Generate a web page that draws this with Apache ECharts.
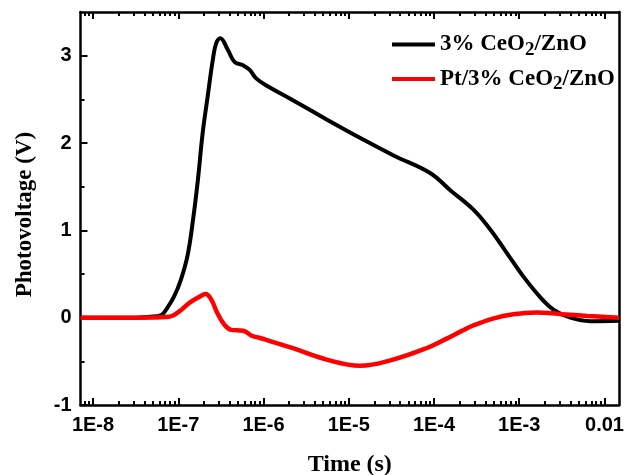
<!DOCTYPE html>
<html><head><meta charset="utf-8">
<script src="https://cdn.jsdelivr.net/npm/echarts@6/dist/echarts.min.js"></script>
<style>html,body{margin:0;padding:0;background:#fff}#c{width:627px;height:475px}</style>
</head><body><div id="c"></div>
<script>
const seriesNames = ['3% CeO2/ZnO', 'Pt/3% CeO2/ZnO'];
const seriesColors = ['#000000', '#ff0000'];

const blackTime = [7.13e-9, 1.58e-8, 3.16e-8, 4.57e-8, 6.31e-8, 7.41e-8, 8.91e-8, 1.07e-7, 1.29e-7, 1.48e-7,
  1.70e-7, 1.93e-7, 2.21e-7, 2.54e-7, 2.78e-7, 3.12e-7, 3.80e-7, 4.57e-7, 5.75e-7, 6.84e-7,
  8.20e-7, 1.12e-6, 2.21e-6, 5.50e-6, 1.35e-5, 3.31e-5, 8.91e-5, 1.55e-4, 2.88e-4, 4.57e-4,
  7.16e-4, 1.12e-3, 1.78e-3, 2.54e-3, 3.98e-3, 6.84e-3, 1.48e-2];
const blackVolt = [0.00, 0.00, 0.00, 0.01, 0.03, 0.11, 0.24, 0.43, 0.72, 1.10,
  1.58, 2.11, 2.53, 2.95, 3.14, 3.20, 3.07, 2.93, 2.89, 2.84,
  2.74, 2.65, 2.49, 2.27, 2.06, 1.86, 1.66, 1.46, 1.24, 1.01,
  0.74, 0.47, 0.23, 0.09, 0.00, -0.04, -0.035];

const redTime = [7.13e-9, 3.16e-8, 7.76e-8, 1.02e-7, 1.35e-7, 1.78e-7, 2.09e-7, 2.43e-7, 2.88e-7, 3.47e-7,
  4.17e-7, 5.75e-7, 7.41e-7, 8.91e-7, 1.12e-6, 2.21e-6, 5.50e-6, 1.35e-5, 3.31e-5, 8.13e-5,
  1.41e-4, 2.04e-4, 2.88e-4, 4.90e-4, 8.51e-4, 1.58e-3, 3.16e-3, 6.31e-3, 1.48e-2];
const redVolt = [0.00, 0.00, 0.01, 0.07, 0.17, 0.24, 0.27, 0.21, 0.05, -0.08,
  -0.14, -0.15, -0.21, -0.23, -0.26, -0.35, -0.48, -0.55, -0.48, -0.35,
  -0.24, -0.16, -0.09, -0.01, 0.04, 0.06, 0.04, 0.02, 0.00];

const xTickValues = [1e-8, 1e-7, 1e-6, 1e-5, 1e-4, 1e-3, 1e-2];
const xTickLabels = ['1E-8', '1E-7', '1E-6', '1E-5', '1E-4', '1E-3', '0.01'];
const yTickValues = [-1, 0, 1, 2, 3];
const yTickLabels = ['-1', '0', '1', '2', '3'];
const yMinorValues = [-0.5, 0.5, 1.5, 2.5];
const xMin = 7.13e-9, xMax = 1.48e-2, yMin = -1, yMax = 3.5;

const xMinorValues = [];
for (let e = -9; e <= -2; e++) for (let m = 2; m <= 9; m++) {
  const v = m * Math.pow(10, e);
  if (v > xMin && v < xMax) xMinorValues.push(v);
}

const AX = { color: '#000', width: 2.5 };
const tickFont = { color: '#000', fontFamily: 'Liberation Sans', fontWeight: 'bold', fontSize: 20 };
const titleFont = { color: '#000', fontFamily: 'Liberation Serif', fontWeight: 'bold', fontSize: 23 };

function xLabel(v) {
  let best = 0, bd = 1e9;
  xTickValues.forEach((t, i) => { const d = Math.abs(Math.log10(t) - Math.log10(v)); if (d < bd) { bd = d; best = i; } });
  return xTickLabels[best];
}
function yLabel(v) {
  const i = yTickValues.findIndex(t => Math.abs(t - v) < 1e-6);
  return i >= 0 ? yTickLabels[i] : '';
}

function xAxisDef(pos, vals, len, showLine, showLabel, name) {
  return {
    type: 'log', logBase: 10, min: xMin, max: xMax, position: pos, gridIndex: 0,
    name: name || '', nameLocation: 'middle', nameGap: 48,
    nameTextStyle: Object.assign({}, titleFont, { fontSize: 24 }),
    axisLine: { show: showLine, onZero: false, lineStyle: AX },
    axisTick: { show: true, inside: true, length: len, customValues: vals, lineStyle: { color: '#000', width: 2 } },
    axisLabel: { show: showLabel, customValues: vals, margin: 10, formatter: xLabel, ...tickFont },
    splitLine: { show: false }, minorTick: { show: false }, minorSplitLine: { show: false }
  };
}
function yAxisDef(pos, vals, len, showTick, showLine, showLabel, name) {
  return {
    type: 'value', min: yMin, max: yMax, position: pos, gridIndex: 0,
    name: name || '', nameLocation: 'middle', nameGap: 44,
    nameTextStyle: Object.assign({}, titleFont, { padding: [0, 12, 0, 0] }),
    axisLine: { show: showLine, onZero: false, lineStyle: AX },
    axisTick: { show: showTick, inside: true, length: len, customValues: vals, lineStyle: { color: '#000', width: 2 } },
    axisLabel: { show: showLabel, customValues: vals, margin: 9, formatter: yLabel, ...tickFont },
    splitLine: { show: false }
  };
}

const chart = echarts.init(document.getElementById('c'), null, { renderer: 'canvas' });
chart.setOption({
  animation: false,
  backgroundColor: '#fff',
  grid: { left: 80.5, right: 8, top: 12, bottom: 70, containLabel: false, outerBoundsMode: 'none' },
  xAxis: [
    xAxisDef('bottom', xTickValues, 7, true, true, 'Time (s)'),
    xAxisDef('bottom', xMinorValues, 4, false, false),
    xAxisDef('top', xTickValues, 7, true, false),
    xAxisDef('top', xMinorValues, 4, false, false)
  ],
  yAxis: [
    yAxisDef('left', yTickValues, 7, true, true, true, 'Photovoltage (V)'),
    yAxisDef('left', yMinorValues, 4, true, false, false),
    yAxisDef('right', yTickValues, 0, false, true, false)
  ],
  legend: {
    data: seriesNames, orient: 'vertical', left: 392, top: 33, padding: 0,
    icon: 'rect', itemWidth: 43, itemHeight: 4, itemGap: 8,
    formatter: function (name) {
      const p = name.split('O2');
      return '{a|' + p[0] + 'O}{s|2}{a|' + p[1] + '}';
    },
    textStyle: {
      rich: {
        a: { fontFamily: 'Liberation Serif', fontWeight: 'bold', fontSize: 23, color: '#000', lineHeight: 30, verticalAlign: 'middle' },
        s: { fontFamily: 'Liberation Serif', fontWeight: 'bold', fontSize: 19, color: '#000', lineHeight: 18, verticalAlign: 'bottom' }
      }
    }
  },
  series: [
    {
      name: seriesNames[0], type: 'line', xAxisIndex: 0, yAxisIndex: 0,
      data: blackTime.map((t, i) => [t, blackVolt[i]]),
      showSymbol: false, symbol: 'none', smooth: 0.4,
      lineStyle: { color: seriesColors[0], width: 4 }, itemStyle: { color: seriesColors[0] }
    },
    {
      name: seriesNames[1], type: 'line', xAxisIndex: 0, yAxisIndex: 0,
      data: redTime.map((t, i) => [t, redVolt[i]]),
      showSymbol: false, symbol: 'none', smooth: 0.4,
      lineStyle: { color: seriesColors[1], width: 4.5 }, itemStyle: { color: seriesColors[1] }
    }
  ]
});
</script>
</body></html>
